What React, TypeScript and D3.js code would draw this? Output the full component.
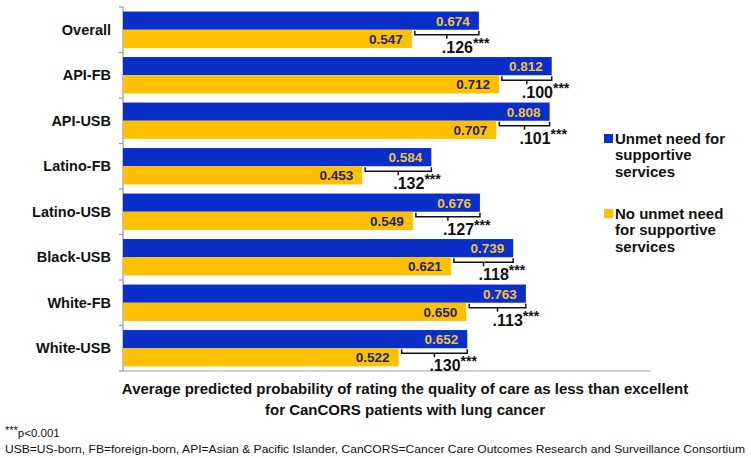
import React from "react";
import * as d3 from "d3";

const categories = ["Overall", "API-FB", "API-USB", "Latino-FB", "Latino-USB", "Black-USB", "White-FB", "White-USB"];
const unmetValues = [0.674, 0.812, 0.808, 0.584, 0.676, 0.739, 0.763, 0.652];
const noUnmetValues = [0.547, 0.712, 0.707, 0.453, 0.549, 0.621, 0.65, 0.522];
const diffLabels = [".126", ".100", ".101", ".132", ".127", ".118", ".113", ".130"];
const seriesNames = ["Unmet need for|supportive|services", "No unmet need|for supportive|services"];
const titleLines = [
  "Average predicted probability of rating the quality of care as less than excellent",
  "for CanCORS patients with lung cancer",
];
const footnotes = [
  "USB=US-born, FB=foreign-born, API=Asian & Pacific Islander, CanCORS=Cancer Care Outcomes Research and Surveillance Consortium",
];

const BLUE = "#0a2fc9";
const YELLOW = "#ffc000";
const BLUE_LABEL = "#f2c23a";
const YELLOW_LABEL = "#1c2470";
const FONT = "Liberation Sans, Arial, sans-serif";

export default function App() {
  const W = 751;
  const H = 458;
  const x = d3.scaleLinear().domain([0, 1]).range([123, 651]);
  const y = d3.scaleBand<string>().domain(categories).range([7, 371]).paddingInner(0.2).paddingOuter(0.1);
  const sub = d3.scaleBand<string>().domain(["unmet", "none"]).range([0, y.bandwidth()]);
  const step = y.step();
  const boundaries = d3.range(categories.length + 1).map((i) => 7 + i * step);

  return (
    <svg width={W} height={H} style={{ position: "absolute", left: 0, top: 0, background: "#fff" }} fontFamily={FONT}>
      <rect x={0} y={0} width={W} height={H} fill="#fff" />
      {/* axes */}
      <line x1={x(0)} x2={x(0)} y1={7} y2={371} stroke="#999" strokeWidth={1.2} />
      <line x1={x(0)} x2={x(1)} y1={371} y2={371} stroke="#aaa" strokeWidth={1.2} />
      {boundaries.map((b, i) => (
        <line key={i} x1={x(0) - 4} x2={x(0)} y1={b} y2={b} stroke="#999" strokeWidth={1.2} />
      ))}
      {categories.map((c, i) => {
        const y0 = y(c) as number;
        const yb = y0 + (sub("unmet") as number);
        const yy = y0 + (sub("none") as number);
        const bh = sub.bandwidth();
        const xb = x(unmetValues[i]);
        const xy = x(noUnmetValues[i]);
        const bl = xy + 3;
        const by = yy + 5;
        const mid = (bl + xb) / 2;
        return (
          <g key={c}>
            <text x={111} y={y0 + y.bandwidth() / 2 + 5} textAnchor="end" fontWeight="bold" fontSize={14.5} fill="#111">
              {c}
            </text>
            <rect x={x(0)} y={yb} width={xb - x(0)} height={bh} fill={BLUE} />
            <rect x={x(0)} y={yy} width={xy - x(0)} height={bh} fill={YELLOW} />
            <text x={xb - 9} y={yb + bh / 2 + 5} textAnchor="end" fontWeight="bold" fontSize={13.5} fill={BLUE_LABEL}>
              {unmetValues[i].toFixed(3)}
            </text>
            <text x={xy - 9} y={yy + bh / 2 + 5} textAnchor="end" fontWeight="bold" fontSize={13.5} fill={YELLOW_LABEL}>
              {noUnmetValues[i].toFixed(3)}
            </text>
            <path
              d={`M${bl},${by - 4} V${by} H${xb} V${by - 4} M${mid},${by} V${by + 4}`}
              fill="none"
              stroke="#111"
              strokeWidth={1.5}
            />
            <text x={mid - 5} y={yy + bh + 5} fontWeight="bold" fontSize={16} fill="#111">
              {diffLabels[i]}
              <tspan fontSize={14} dy={-5}>***</tspan>
            </text>
          </g>
        );
      })}
      {/* legend */}
      {seriesNames.map((s, i) => {
        const ly = 134 + i * 75;
        return (
          <g key={s}>
            <rect x={604} y={ly} width={9} height={9} fill={i === 0 ? BLUE : YELLOW} />
            {s.split("|").map((line, j) => (
              <text key={j} x={615} y={ly + 9.5 + j * 16.5} fontWeight="bold" fontSize={15} fill="#111">
                {line}
              </text>
            ))}
          </g>
        );
      })}
      {/* title */}
      {titleLines.map((t, i) => (
        <text key={i} x={405} y={394 + i * 21} textAnchor="middle" fontWeight="bold" fontSize={15} fill="#111">
          {t}
        </text>
      ))}
      {/* footnotes */}
      <text x={5} y={437} fontSize={11.5} fill="#111">
        <tspan fontSize={11} dy={-3}>***</tspan>
        <tspan dy={3}>p&lt;0.001</tspan>
      </text>
      {footnotes.map((f, i) => (
        <text key={i} x={5} y={453} fontSize={11.5} fill="#111" textLength={740} lengthAdjust="spacingAndGlyphs">
          {f}
        </text>
      ))}
    </svg>
  );
}
